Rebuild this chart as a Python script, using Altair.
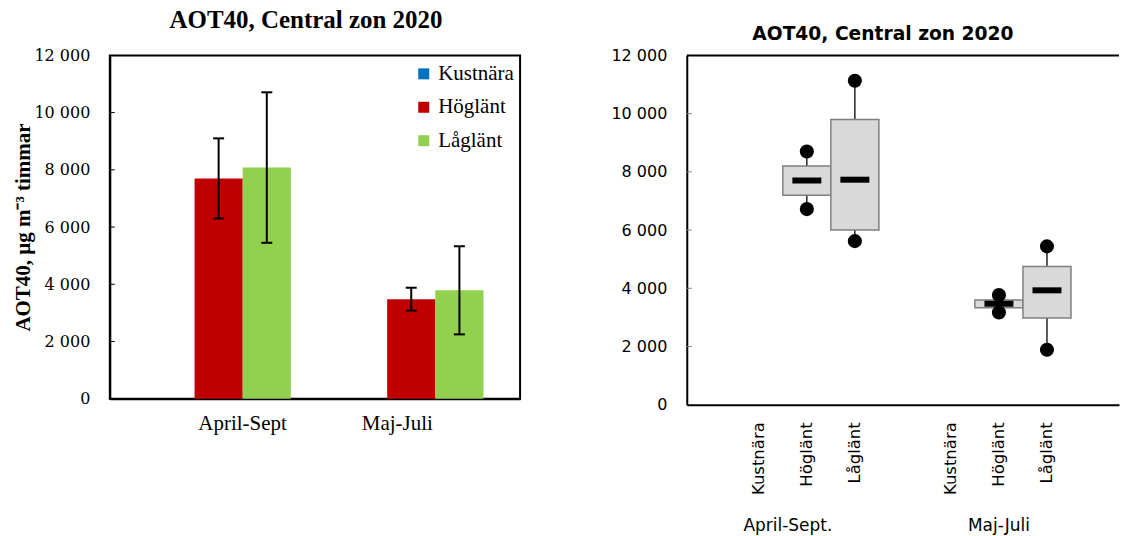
import altair as alt
import pandas as pd

TITLE = "AOT40, Central zon 2020"
SERIF = "Liberation Serif"
SANS = "DejaVu Sans"

sites = ["Kustnära", "Höglänt", "Låglänt"]
site_colors = ["#0070C0", "#C00000", "#92D050"]
periods = ["April-Sept", "Maj-Juli"]
y_ticks = [0, 2000, 4000, 6000, 8000, 10000, 12000]
inner_ticks = [2000, 4000, 6000, 8000, 10000]

# Left panel: mean AOT40 with standard deviation per period and site
bar_period = ["April-Sept", "April-Sept", "Maj-Juli", "Maj-Juli"]
bar_site = ["Höglänt", "Låglänt", "Höglänt", "Låglänt"]
bar_mean = [7700, 8080, 3480, 3790]
bar_sd = [1400, 2630, 400, 1540]

# Right panel: box summaries per period and site
slots = ["A|Kustnära", "A|Höglänt", "A|Låglänt", "gap",
         "M|Kustnära", "M|Höglänt", "M|Låglänt"]
box_slot = ["A|Höglänt", "A|Låglänt", "M|Höglänt", "M|Låglänt"]
box_min = [6720, 5620, 3170, 1890]
box_q1 = [7200, 6000, 3330, 2980]
box_median = [7700, 7730, 3470, 3930]
box_q3 = [8200, 9800, 3600, 4750]
box_max = [8700, 11130, 3770, 5440]
group_labels = ["April-Sept.", "Maj-Juli"]
group_anchor = ["A|Höglänt", "M|Höglänt"]

space_thousands = "replace(format(datum.value, ','), ',', ' ')"

# ---------------- left panel: grouped bars ----------------
bars_df = pd.DataFrame({"period": bar_period, "site": bar_site,
                        "mean": bar_mean, "sd": bar_sd})

LW, LH = 411, 344

x_left = alt.X(
    "period:N",
    scale=alt.Scale(domain=periods, paddingInner=0.25, paddingOuter=0.19),
    axis=alt.Axis(title=None, labelAngle=0, ticks=False, tickSize=0,
                  labelPadding=14, labelFont=SERIF, labelFontSize=21,
                  labelColor="black", domainColor="black", domainWidth=2,
                  labelOffset={"condition": {"test": "datum.value == 'April-Sept'",
                                             "value": 24}, "value": -14}),
)
x_off = alt.XOffset("site:N", scale=alt.Scale(domain=sites, paddingInner=0,
                                               paddingOuter=0))
y_scale_left = alt.Scale(domain=[0, 12000])

base_left = alt.Chart(bars_df).transform_calculate(
    lo="datum.mean - datum.sd", hi="datum.mean + datum.sd"
)

bars = base_left.mark_bar().encode(
    x=x_left,
    xOffset=x_off,
    y=alt.Y("mean:Q", scale=y_scale_left,
            axis=alt.Axis(values=y_ticks, title="AOT40, µg m⁻³ timmar",
                          titleFont=SERIF, titleFontSize=21, titleFontWeight="bold",
                          titleColor="black", labelFont="DejaVu Serif",
                          labelFontSize=16, labelColor="black", labelExpr=space_thousands,
                          ticks=False, tickSize=0, labelPadding=20, grid=False,
                          domainColor="black", domainWidth=2, minExtent=76,
                          maxExtent=76, titlePadding=0)),
    color=alt.Color("site:N", scale=alt.Scale(domain=sites, range=site_colors),
                    legend=alt.Legend(title=None, orient="none", legendX=304,
                                      legendY=8, symbolType="square",
                                      symbolSize=121, symbolStrokeWidth=0,
                                      labelFont=SERIF, labelFontSize=21,
                                      labelColor="black", rowPadding=11.5,
                                      labelOffset=4, padding=0)),
)

err_line = base_left.mark_rule(color="black", strokeWidth=2).encode(
    x=alt.X("period:N"), xOffset=alt.XOffset("site:N"),
    y=alt.Y("lo:Q"), y2="hi:Q",
)
err_lo = base_left.mark_tick(color="black", thickness=2, size=11, opacity=1).encode(
    x=alt.X("period:N"), xOffset=alt.XOffset("site:N"), y=alt.Y("lo:Q"),
)
err_hi = base_left.mark_tick(color="black", thickness=2, size=11, opacity=1).encode(
    x=alt.X("period:N"), xOffset=alt.XOffset("site:N"), y=alt.Y("hi:Q"),
)
ticks_left = alt.Chart(pd.DataFrame({"v": inner_ticks})).mark_rule(
    color="black", strokeWidth=1).encode(
    y=alt.Y("v:Q"), x=alt.value(0), x2=alt.value(5))

left = alt.layer(bars, err_line, err_lo, err_hi, ticks_left).properties(
    width=LW, height=LH,
    title=alt.TitleParams(TITLE, font=SERIF, fontSize=25, fontWeight="bold",
                          color="black", offset=14, anchor="middle", dx=-9),
    view=alt.ViewBackground(stroke="black", strokeWidth=2),
)

# ---------------- right panel: box summaries ----------------
box_df = pd.DataFrame({"slot": box_slot, "lo": box_min, "q1": box_q1,
                       "med": box_median, "q3": box_q3, "hi": box_max})
RW, RH = 433, 350

x_right = alt.X(
    "slot:N",
    scale=alt.Scale(domain=slots, paddingInner=0, paddingOuter=1.0),
    axis=alt.Axis(title=None, labelAngle=-90,
                  labelExpr="datum.value == 'gap' ? '' : split(datum.value, '|')[1]",
                  labelFont=SANS, labelFontSize=16.5, labelColor="black",
                  labelPadding=17, ticks=False, tickSize=0,
                  domainColor="black", domainWidth=2),
)
y_right = alt.Y(
    "q1:Q", scale=alt.Scale(domain=[0, 12000]),
    axis=alt.Axis(values=y_ticks, title=None, labelFont=SANS, labelFontSize=16,
                  labelColor="black", labelExpr=space_thousands, ticks=False,
                  tickSize=0, labelPadding=20, grid=False,
                  domainColor="black", domainWidth=2),
)

base_right = alt.Chart(box_df)
whisker = base_right.mark_rule(color="black", strokeWidth=1.3).encode(
    x=x_right, y=alt.Y("lo:Q"), y2="hi:Q")
box = base_right.mark_bar(fill="#D9D9D9", stroke="#7F7F7F", strokeWidth=1.5).encode(
    x=x_right, y=y_right, y2="q3:Q")
median = base_right.mark_tick(color="black", thickness=6, size=29, opacity=1).encode(
    x=x_right, y=alt.Y("med:Q"))
dot_lo = base_right.mark_circle(color="black", size=200, opacity=1).encode(
    x=x_right, y=alt.Y("lo:Q"))
dot_hi = base_right.mark_circle(color="black", size=200, opacity=1).encode(
    x=x_right, y=alt.Y("hi:Q"))

ticks_right = alt.Chart(pd.DataFrame({"v": inner_ticks})).mark_rule(
    color="#808080", strokeWidth=1).encode(
    y=alt.Y("v:Q"), x=alt.value(0), x2=alt.value(5))
top_line = alt.Chart(pd.DataFrame({"v": [12000]})).mark_rule(
    color="black", strokeWidth=2).encode(
    y=alt.Y("v:Q"), x=alt.value(0), x2=alt.value(RW))

grp_df = pd.DataFrame({"label": group_labels, "slot": group_anchor})
grp_a = alt.Chart(grp_df).transform_filter("datum.slot == 'A|Höglänt'").mark_text(
    font=SANS, fontSize=17, color="black", baseline="middle", dx=-19).encode(
    x=alt.X("slot:N"), y=alt.value(RH + 121), text="label:N")
grp_m = alt.Chart(grp_df).transform_filter("datum.slot == 'M|Höglänt'").mark_text(
    font=SANS, fontSize=17, color="black", baseline="middle").encode(
    x=alt.X("slot:N"), y=alt.value(RH + 121), text="label:N")

right = alt.layer(whisker, box, median, dot_lo, dot_hi, ticks_right, top_line,
                  grp_a, grp_m).properties(
    width=RW, height=RH,
    title=alt.TitleParams(TITLE, font=SANS, fontSize=18.7, fontWeight="bold",
                          color="black", offset=4, anchor="middle", dx=-20),
    view=alt.ViewBackground(stroke="transparent"),
)

chart = alt.hconcat(left, right, spacing=167, bounds="flush").properties(
    padding={"left": 12, "top": 7, "right": 0, "bottom": 0},
    background="white",
).configure_axis(grid=False)

chart.save("out.html", embed_options={"renderer": "svg", "actions": False})
